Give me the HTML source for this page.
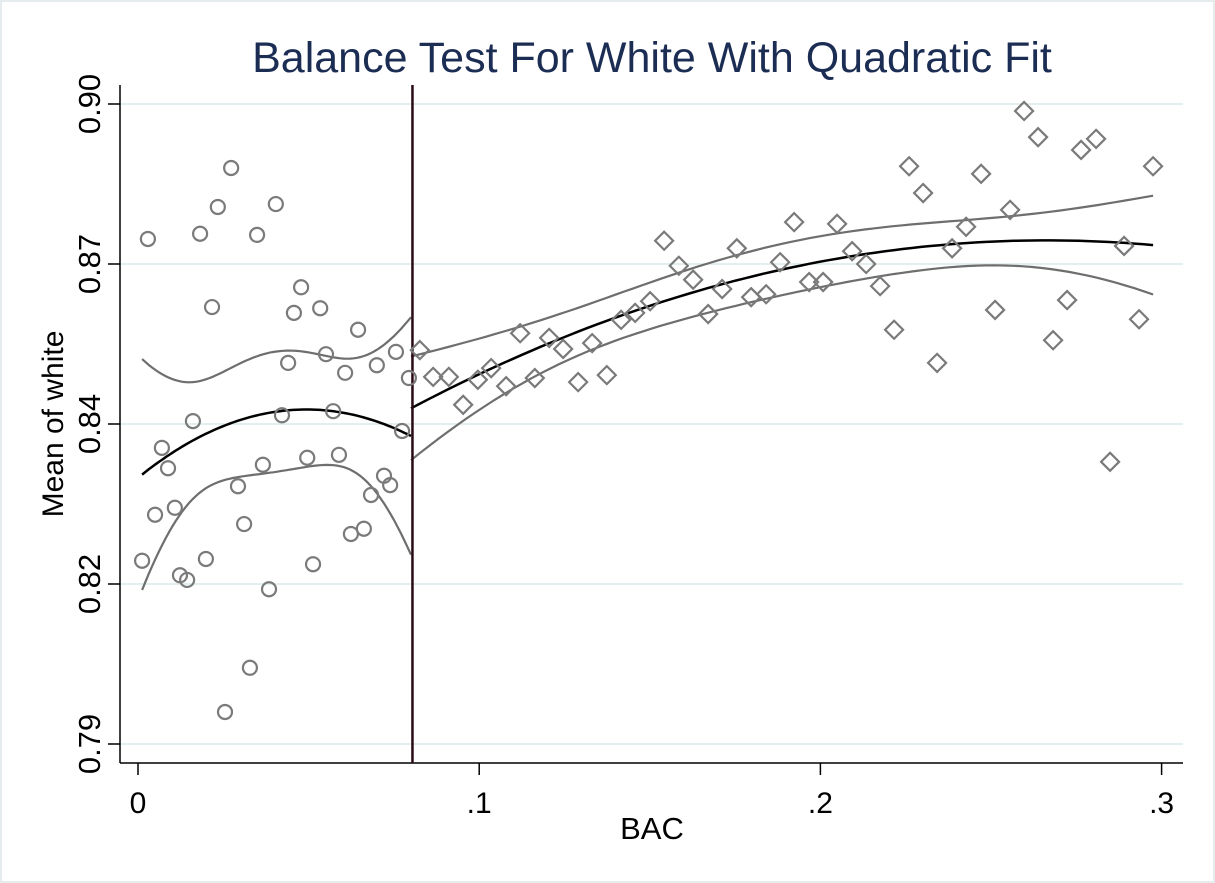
<!DOCTYPE html>
<html><head><meta charset="utf-8"><style>
html,body{margin:0;padding:0;background:#fff}
svg{display:block}
text{font-family:"Liberation Sans",Arial,sans-serif}
</style></head><body>
<svg id="chart" width="1215" height="883">
<rect x="1" y="1" width="1213" height="881" fill="#fff" stroke="#e6ebee" stroke-width="2"/>
<text x="652" y="72" font-size="43" fill="#1c2d54" text-anchor="middle">Balance Test For White With Quadratic Fit</text>
<g id="grid"></g><g id="axes"></g><g id="fits"></g><g id="marks"></g>
<text x="652" y="839" font-size="31" text-anchor="middle">BAC</text>
<text transform="translate(63,424) rotate(-90)" font-size="30" text-anchor="middle">Mean of white</text>
</svg>
<script>
const xTicks=[0,0.1,0.2,0.3];
const xTickLabels=["0",".1",".2",".3"];
const yTicks=[0.8985,0.8710,0.8435,0.8160,0.7885];
const yTickLabels=["0.90","0.87","0.84","0.82","0.79"];
const cutoff=0.08;
const leftX=[.0012,.0029,.0050,.0070,.0088,.0108,.0123,.0144,.0161,.0182,.0199,.0217,.0234,.0255,.0273,.0293,.0311,.0328,.0349,.0366,.0384,.0404,.0422,.0440,.0457,.0478,.0496,.0513,.0534,.0551,.0572,.0589,.0607,.0624,.0645,.0662,.0683,.0700,.0721,.0739,.0756,.0774,.0794];
const leftY=[.8200,.8753,.8279,.8394,.8359,.8291,.8175,.8167,.8440,.8762,.8203,.8636,.8808,.7940,.8875,.8328,.8263,.8016,.8760,.8365,.8151,.8813,.8450,.8540,.8626,.8670,.8377,.8194,.8634,.8555,.8457,.8382,.8523,.8246,.8597,.8255,.8313,.8536,.8346,.8330,.8559,.8423,.8514];
const rightX=[.0826,.0865,.0911,.0953,.0996,.1035,.1079,.1120,.1163,.1205,.1246,.1290,.1331,.1374,.1416,.1457,.1501,.1542,.1585,.1627,.1671,.1712,.1755,.1797,.1841,.1882,.1923,.1967,.2008,.2049,.2093,.2134,.2175,.2216,.2260,.2301,.2342,.2386,.2427,.2471,.2512,.2556,.2597,.2638,.2682,.2723,.2764,.2808,.2849,.2890,.2934,.2975];
const rightY=[.8562,.8516,.8516,.8468,.8511,.8531,.8500,.8591,.8514,.8583,.8564,.8507,.8574,.8519,.8614,.8626,.8646,.8750,.8707,.8683,.8624,.8667,.8737,.8653,.8658,.8713,.8782,.8679,.8679,.8779,.8732,.8710,.8672,.8597,.8878,.8832,.8540,.8737,.8774,.8865,.8631,.8803,.8973,.8928,.8579,.8648,.8906,.8925,.8370,.8741,.8615,.8878];

const NS="http://www.w3.org/2000/svg";
const X0=120,X1=1183,Y0=85,Y1=763;
function sx(v){return 138+v*3412;}
function sy(v){return 104+(0.8985-v)/0.0275*160;}
function mk(tag,attrs,parent){const e=document.createElementNS(NS,tag);for(const k in attrs)e.setAttribute(k,attrs[k]);parent.appendChild(e);return e;}
const grid=document.getElementById('grid'),axes=document.getElementById('axes'),fits=document.getElementById('fits'),marks=document.getElementById('marks');

yTicks.forEach((t,i)=>{
  const y=sy(t);
  const g=mk('line',{x1:X0,x2:X1,y1:y,y2:y,stroke:'#e4eef0','stroke-width':2},grid);
  
  
  const tk=mk('line',{x1:108,x2:X0,y1:y,y2:y,stroke:'#000','stroke-width':1.5},axes);
  
  
  const lb=mk('text',{transform:`translate(100,${y}) rotate(-90)`,'font-size':31,'text-anchor':'middle'},axes);
  lb.textContent=yTickLabels[i];
  
  
});
xTicks.forEach((t,i)=>{
  const x=sx(t);
  const tk=mk('line',{x1:x,x2:x,y1:Y1,y2:Y1+12,stroke:'#000','stroke-width':1.5},axes);
  
  
  const lb=mk('text',{x:x,y:813,'font-size':30,'text-anchor':'middle'},axes);
  lb.textContent=xTickLabels[i];
  
  
});
let a=mk('line',{x1:X0,x2:X0,y1:Y0,y2:Y1,stroke:'#000','stroke-width':1.5},axes);


a=mk('line',{x1:X0,x2:X1,y1:Y1,y2:Y1,stroke:'#000','stroke-width':1.5},axes);



function inv3(m){const[a,b,c]=m[0],[d,e,f]=m[1],[g,h,i]=m[2];const A=e*i-f*h,B=-(d*i-f*g),C=d*h-e*g;const det=a*A+b*B+c*C;
 return [[A/det,-(b*i-c*h)/det,(b*f-c*e)/det],[B/det,(a*i-c*g)/det,-(a*f-c*d)/det],[C/det,-(a*h-b*g)/det,(a*e-b*d)/det]];}
function qfit(xs,ys){
  const n=xs.length;const XtX=[[0,0,0],[0,0,0],[0,0,0]],Xty=[0,0,0];
  for(let k=0;k<n;k++){const r=[1,xs[k],xs[k]*xs[k]];for(let i=0;i<3;i++){Xty[i]+=r[i]*ys[k];for(let j=0;j<3;j++)XtX[i][j]+=r[i]*r[j];}}
  const V=inv3(XtX);const b=[0,1,2].map(i=>V[i][0]*Xty[0]+V[i][1]*Xty[1]+V[i][2]*Xty[2]);
  let ss=0;for(let k=0;k<n;k++){const p=b[0]+b[1]*xs[k]+b[2]*xs[k]*xs[k];ss+=(ys[k]-p)**2;}
  const s2=ss/(n-3);
  return x=>{const r=[1,x,x*x];let v=0;for(let i=0;i<3;i++)for(let j=0;j<3;j++)v+=r[i]*V[i][j]*r[j];const p=b[0]+b[1]*x+b[2]*x*x;const se=Math.sqrt(s2*v);return [p,p-2.01*se,p+2.01*se];};
}
function drawFit(xs,ys,lo,hi,side){
  const f=qfit(xs,ys);const pts=[[],[],[]];
  for(let k=0;k<=80;k++){const x=lo+(hi-lo)*k/80;const r=f(x);for(let j=0;j<3;j++)pts[j].push(sx(x).toFixed(1)+','+sy(r[j]).toFixed(1));}
  const names=['fit-line','ci-lower','ci-upper'];
  [1,2,0].forEach(j=>{
    const p=mk('polyline',{points:pts[j].join(' '),fill:'none',stroke:j===0?'#000':'#6e6e6e','stroke-width':j===0?2.5:2.2},fits);
    
    
  });
}
drawFit(leftX,leftY,leftX[0],cutoff,'left');
drawFit(rightX,rightY,cutoff,rightX[rightX.length-1],'right');

const cl=mk('line',{x1:sx(cutoff)+1.5,x2:sx(cutoff)+1.5,y1:Y0,y2:Y1,stroke:'#2a0a12','stroke-width':2.5},fits);



leftX.forEach((x,i)=>{
  const c=mk('circle',{cx:sx(x),cy:sy(leftY[i]),r:7,fill:'none',stroke:'#7a7a7a','stroke-width':2.2},marks);
  
  
});
rightX.forEach((x,i)=>{
  const cx=sx(x),cy=sy(rightY[i]),d=9;
  const p=mk('polygon',{points:`${cx},${cy-d} ${cx+d},${cy} ${cx},${cy+d} ${cx-d},${cy}`,fill:'none',stroke:'#7a7a7a','stroke-width':2.2},marks);
  
  
});
</script>
</body></html>
